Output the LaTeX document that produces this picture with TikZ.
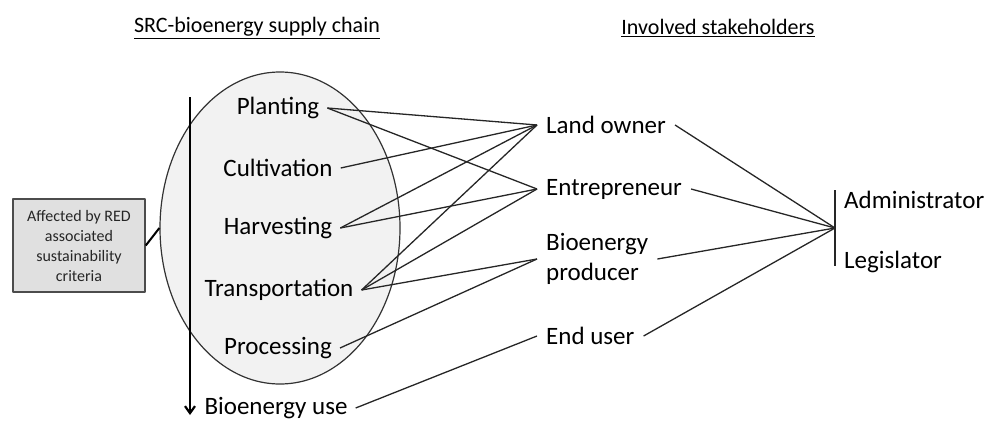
\documentclass[tikz,border=0pt]{standalone}
\usepackage{fontspec}
\setmainfont{Carlito}
\usetikzlibrary{shapes.geometric,arrows.meta}
\begin{document}
\begin{tikzpicture}[x=1pt,y=-1pt,line join=bevel,
  stage/.style={inner xsep=8pt,font=\fontsize{25}{30}\selectfont},
  actor/.style={anchor=west,inner xsep=9pt,align=left,font=\fontsize{25}{30}\selectfont},
  link/.style={black!85,line width=1.3pt}]
\useasboundingbox (0,0) rectangle (988,421);
%%
\node (title_chain) at (257,28) [font=\fontsize{22}{26}\selectfont] {\underline{SRC-bioenergy supply chain}};
\node (title_actor) at (718,28) [font=\fontsize{22}{26}\selectfont] {\underline{Involved stakeholders}};
\node (chain) at (280,228) [ellipse,draw=black!80,line width=1.2pt,fill=black!5,minimum width=240pt,minimum height=312pt,inner sep=0pt] {};
\node (box) at (79,245.5) [draw=black!70,line width=1.5pt,fill=black!12,minimum width=132pt,minimum height=93pt,align=center,text=black!85,font=\fontsize{16}{20}\selectfont] {Affected by RED\\associated\\sustainability\\criteria};
\draw [black,line width=2pt] (box.east) -- (chain.west);
%
\coordinate (flow_top) at (190,97);
\coordinate (flow_end) at (190,415);
\draw [black,line width=2.2pt,-{Straight Barb[length=7pt,width=10pt]}] (flow_top) -- (flow_end);
%
\node (planting) at (278,108) [stage] {Planting};
\node (cultivation) at (278,168) [stage] {Cultivation};
\node (harvesting) at (278,228) [stage] {Harvesting};
\node (transport) at (279,290) [stage] {Transportation};
\node (processing) at (278,348) [stage] {Processing};
\node (use) at (276,408) [stage] {Bioenergy use};
%
\node (land) at (537,125) [actor] {Land owner};
\node (entre) at (537,189) [actor] {Entrepreneur};
\node (producer) at (537,259) [actor] {Bioenergy\\producer};
\node (enduser) at (537,336) [actor] {End user};
\coordinate (gov) at (835,228);
\coordinate (gov_top) at (835,190);
\coordinate (gov_bot) at (835,266);
\draw [black!85,line width=1.4pt] (gov_top) -- (gov_bot);
\node (admin) at (836,200) [actor,inner xsep=8pt] {Administrator};
\node (legis) at (836,262) [actor,inner xsep=8pt] {Legislator};
%
\draw [link] (planting.east) -- (land.west);
\draw [link] (planting.east) -- (entre.west);
\draw [link] (cultivation.east) -- (land.west);
\draw [link] (harvesting.east) -- (land.west);
\draw [link] (harvesting.east) -- (entre.west);
\draw [link] (transport.east) -- (land.west);
\draw [link] (transport.east) -- (entre.west);
\draw [link] (transport.east) -- (producer.west);
\draw [link] (processing.east) -- (producer.west);
\draw [link] (use.east) -- (enduser.west);
%
\draw [link] (land.east) -- (gov);
\draw [link] (entre.east) -- (gov);
\draw [link] (producer.east) -- (gov);
\draw [link] (enduser.east) -- (gov);
%
\end{tikzpicture}
\end{document}
